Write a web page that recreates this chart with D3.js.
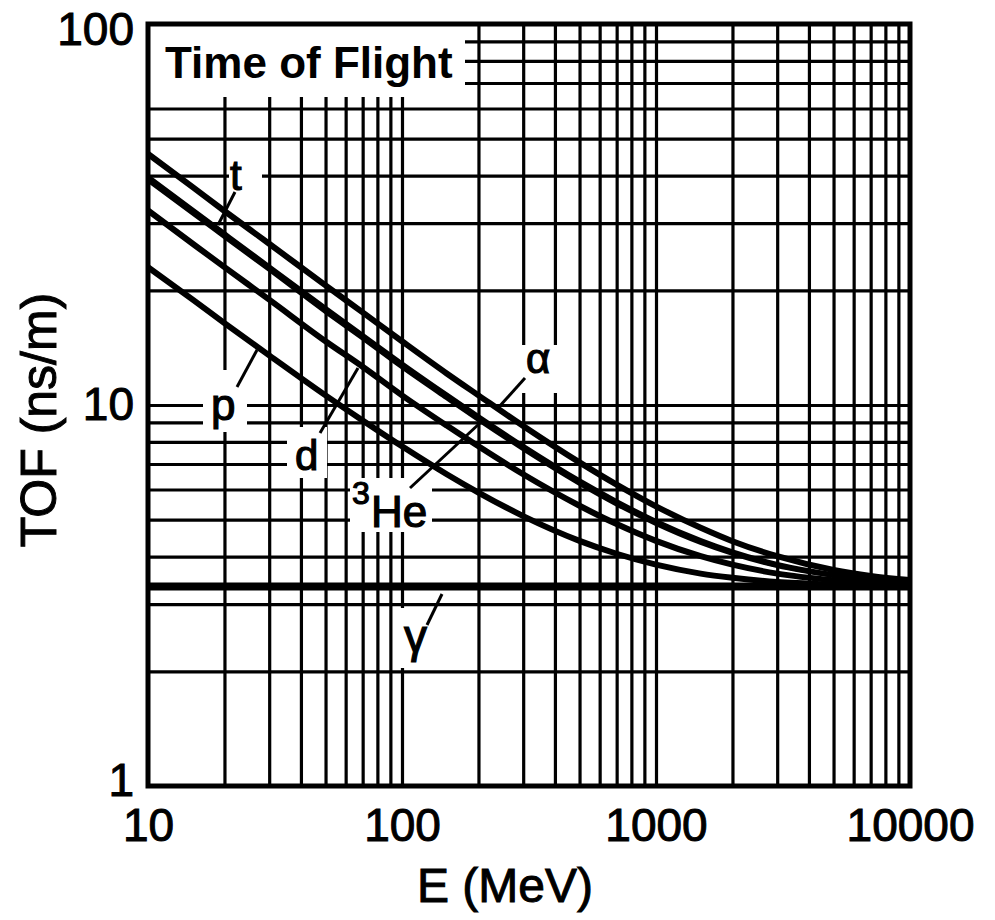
<!DOCTYPE html>
<html>
<head>
<meta charset="utf-8">
<script src="https://cdn.jsdelivr.net/npm/d3@7"></script>
<style>
  body { margin: 0; background: #fff; }
  text { font-family: "Liberation Sans", Arial, sans-serif; fill: #000; }
</style>
</head>
<body>
<script>
// values (E in MeV, TOF in ns/m)
const energies = [10, 15, 20, 30, 50, 70, 100, 150, 200, 300, 500, 700, 1000, 1500, 2000, 3000, 5000, 7000, 10000];
const tofAlpha = [45.6, 37.3, 32.3, 26.5, 20.6, 17.5, 14.7, 12.1, 10.6, 8.81, 7.07, 6.18, 5.42, 4.76, 4.39, 4.01, 3.69, 3.56, 3.47];
const tofTriton = [39.6, 32.4, 28.1, 23.0, 17.9, 15.2, 12.8, 10.6, 9.30, 7.78, 6.31, 5.57, 4.94, 4.40, 4.11, 3.81, 3.58, 3.48, 3.42];
const tofHe3 = [39.0, 31.9, 27.7, 22.7, 17.6, 15.0, 12.6, 10.45, 9.17, 7.68, 6.23, 5.50, 4.89, 4.36, 4.08, 3.79, 3.57, 3.47, 3.41];
const tofDeuteron = [32.4, 26.5, 23.0, 18.9, 14.7, 12.6, 10.6, 8.83, 7.79, 6.58, 5.44, 4.87, 4.40, 4.01, 3.81, 3.61, 3.47, 3.41, 3.38];
const tofProton = [23.0, 18.9, 16.4, 13.5, 10.6, 9.11, 7.79, 6.58, 5.89, 5.11, 4.40, 4.07, 3.81, 3.61, 3.52, 3.43, 3.38, 3.36, 3.35];
const gammaEnergies = [10, 10000];
const tofGamma = [3.34, 3.34];

const xTicks = [10, 100, 1000, 10000];
const yTicks = [1, 10, 100];
const xGrid = [20, 30, 40, 50, 60, 70, 80, 90, 100, 200, 300, 400, 500, 600, 700, 800, 900, 1000,
               2000, 3000, 4000, 5000, 6000, 7000, 8000, 9000];
const yGrid = [2, 3, 4, 5, 6, 7, 8, 9, 10, 20, 30, 40, 50, 60, 70, 80, 90];

const width = 995, height = 920;
const margin = { top: 24, right: 85, bottom: 134, left: 148 };

const svg = d3.select("body").append("svg")
    .attr("width", width)
    .attr("height", height);

const x = d3.scaleLog()
    .domain([10, 10000])
    .range([margin.left, width - margin.right]);

const y = d3.scaleLog()
    .domain([1, 100])
    .range([height - margin.bottom, margin.top]);

const plotW = width - margin.left - margin.right;
const plotH = height - margin.top - margin.bottom;

// grid
svg.append("g")
    .attr("transform", `translate(0,${height - margin.bottom})`)
    .call(d3.axisBottom(x).tickValues(xGrid).tickSize(-plotH).tickFormat(""))
    .call(g => g.select(".domain").remove())
    .call(g => g.selectAll("line").attr("stroke", "#000").attr("stroke-width", 3.2));

svg.append("g")
    .attr("transform", `translate(${margin.left},0)`)
    .call(d3.axisLeft(y).tickValues(yGrid).tickSize(-plotW).tickFormat(""))
    .call(g => g.select(".domain").remove())
    .call(g => g.selectAll("line").attr("stroke", "#000").attr("stroke-width", 3.2));

// white patches behind the labels (the grid is broken there)
const boxes = [
    [148, 24, 317, 73],   // title
    [229, 158, 33, 36],   // t
    [203, 370, 44, 62],   // p
    [287, 427, 40, 51],   // d
    [350, 478, 82, 54],   // 3He
    [514, 345, 46, 48],   // alpha
    [398, 608, 58, 60]    // gamma
];
svg.append("g").selectAll("rect")
    .data(boxes)
    .join("rect")
    .attr("x", d => d[0])
    .attr("y", d => d[1])
    .attr("width", d => d[2])
    .attr("height", d => d[3])
    .attr("fill", "#fff");

// frame
svg.append("rect")
    .attr("x", margin.left)
    .attr("y", margin.top)
    .attr("width", plotW)
    .attr("height", plotH)
    .attr("fill", "none")
    .attr("stroke", "#000")
    .attr("stroke-width", 5);

// curves
const series = [
    { name: "alpha", e: energies, tof: tofAlpha, w: 6 },
    { name: "t", e: energies, tof: tofTriton, w: 5.5 },
    { name: "3He", e: energies, tof: tofHe3, w: 5 },
    { name: "d", e: energies, tof: tofDeuteron, w: 6 },
    { name: "p", e: energies, tof: tofProton, w: 6 },
    { name: "gamma", e: gammaEnergies, tof: tofGamma, w: 8 }
];

svg.append("clipPath").attr("id", "clip")
    .append("rect")
    .attr("x", margin.left).attr("y", margin.top)
    .attr("width", plotW).attr("height", plotH);

const line = d3.line()
    .x(d => x(d[0]))
    .y(d => y(d[1]))
    .curve(d3.curveMonotoneX);

svg.append("g")
    .attr("clip-path", "url(#clip)")
    .selectAll("path")
    .data(series)
    .join("path")
    .attr("d", s => line(s.e.map((e, i) => [e, s.tof[i]])))
    .attr("fill", "none")
    .attr("stroke", "#000")
    .attr("stroke-width", s => s.w)
    .attr("stroke-linejoin", "round");

// leader lines from labels to curves
const leaders = [
    [235, 192, 218, 225],
    [237, 387, 257, 350],
    [320, 433, 358, 368],
    [410, 488, 480, 423],
    [525, 378, 498, 408],
    [427, 625, 442, 594]
];
svg.append("g").selectAll("line")
    .data(leaders)
    .join("line")
    .attr("x1", d => d[0]).attr("y1", d => d[1])
    .attr("x2", d => d[2]).attr("y2", d => d[3])
    .attr("stroke", "#000")
    .attr("stroke-width", 3);

// curve labels
const labels = [
    { t: "t", x: 230, y: 190, size: 42 },
    { t: "p", x: 211, y: 420, size: 44 },
    { t: "d", x: 295, y: 470, size: 42 },
    { t: "3", x: 352, y: 504, size: 32 },
    { t: "He", x: 371, y: 527, size: 44 },
    { t: "α", x: 526, y: 373, size: 42 },
    { t: "γ", x: 404, y: 652, size: 46 }
];
svg.append("g").selectAll("text")
    .data(labels)
    .join("text")
    .attr("x", d => d.x)
    .attr("y", d => d.y)
    .attr("font-size", d => d.size)
    .attr("stroke", "#000")
    .attr("stroke-width", 1.2)
    .text(d => d.t);

// title
svg.append("text")
    .attr("x", 165)
    .attr("y", 78)
    .attr("font-size", 44)
    .attr("font-weight", "bold")
    .text("Time of Flight");

// tick labels
svg.append("g")
    .attr("transform", `translate(0,${height - margin.bottom})`)
    .call(d3.axisBottom(x).tickValues(xTicks).tickSize(0).tickPadding(22).tickFormat(d3.format("d")))
    .call(g => g.select(".domain").remove())
    .call(g => g.selectAll("text")
        .attr("font-size", 46)
        .attr("font-family", "Liberation Sans, Arial, sans-serif")
        .attr("stroke", "#000")
        .attr("stroke-width", 1));

svg.append("g")
    .attr("transform", `translate(${margin.left},0)`)
    .call(d3.axisLeft(y).tickValues(yTicks).tickSize(0).tickPadding(14).tickFormat(d3.format("d")))
    .call(g => g.select(".domain").remove())
    .call(g => g.selectAll("text")
        .attr("font-size", 46)
        .attr("font-family", "Liberation Sans, Arial, sans-serif")
        .attr("stroke", "#000")
        .attr("stroke-width", 1))
    .call(g => g.selectAll(".tick").filter(d => d === 100).select("text").attr("dy", "0.45em"))
    .call(g => g.selectAll(".tick").filter(d => d === 1).select("text").attr("dy", "0.2em"));

// axis titles
svg.append("text")
    .attr("x", 505)
    .attr("y", 902)
    .attr("text-anchor", "middle")
    .attr("font-size", 48)
    .attr("stroke", "#000")
    .attr("stroke-width", 1)
    .text("E (MeV)");

svg.append("text")
    .attr("transform", "translate(56,420) rotate(-90)")
    .attr("text-anchor", "middle")
    .attr("font-size", 50)
    .attr("stroke", "#000")
    .attr("stroke-width", 1)
    .text("TOF (ns/m)");
</script>
</body>
</html>
